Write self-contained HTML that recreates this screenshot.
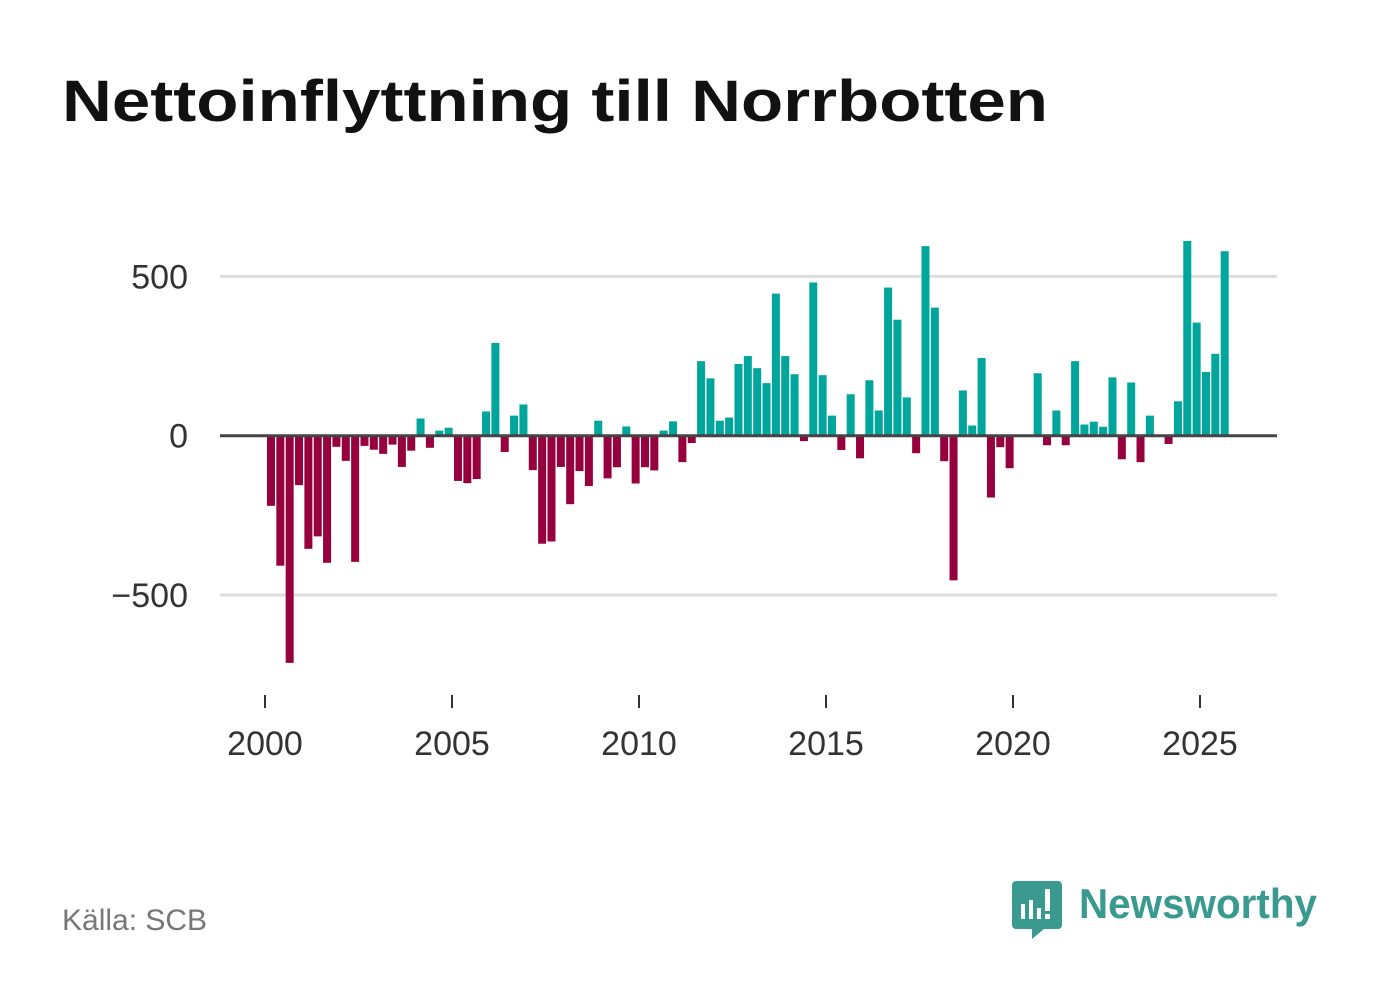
<!DOCTYPE html>
<html><head><meta charset="utf-8"><style>
html,body{margin:0;padding:0;background:#fff;}
svg{display:block;font-family:"Liberation Sans",sans-serif;}
</style></head><body>
<svg id="chart" width="1382" height="999" viewBox="0 0 1382 999" xmlns="http://www.w3.org/2000/svg">
<rect width="1382" height="999" fill="#fff"/>
<text x="62" y="121" font-size="58" font-weight="bold" fill="#111" textLength="986" lengthAdjust="spacingAndGlyphs">Nettoinflyttning till Norrbotten</text>
<g id="grid"></g>
<g id="bars"></g>
<g id="axes"></g>
<text x="62" y="930" font-size="30" fill="#777">Källa: SCB</text>
<g>
<path d="M1016 881 h42 a4 4 0 0 1 4 4 v40 a4 4 0 0 1 -4 4 h-14 l-12 10 l0 -10 h-16 a4 4 0 0 1 -4 -4 v-40 a4 4 0 0 1 4 -4z" fill="#3a9a90"/>
<rect x="1021" y="904" width="4" height="15" fill="#fff"/>
<rect x="1029" y="900" width="4" height="19" fill="#fff"/>
<rect x="1037" y="908" width="4" height="11" fill="#fff"/>
<rect x="1045" y="889" width="5" height="22" fill="#fff"/>
<rect x="1045" y="914" width="5" height="5" fill="#fff"/>
<text x="1079" y="918" font-size="42" font-weight="bold" fill="#3a9a90" textLength="238" lengthAdjust="spacingAndGlyphs">Newsworthy</text>
</g>
</svg>
<script>
const values = [-220,-408,-713,-155, -355,-316,-399,-35, -79,-396,-32,-44, -57,-28,-98,-47,
 54,-38,16,25, -142,-149,-136,76, 291,-51,63,98, -108,-339,-332,-98, -215,-111,-158,47,
 -134,-99,29,-150, -99,-109,16,45, -83,-23,234,180, 47,57,225,250, 212,165,446,250,
 193,-17,481,190, 63,-45,130,-71, 174,79,465,364, 120,-55,595,402, -80,-454,142,32,
 244,-194,-36,-102, 0,3,196,-30, 79,-30,234,35, 44,28,183,-74, 167,-83,63,0,
 -26,108,611,355, 200,257,579];
const startYear = 2000;
const yTicks = [500, 0, -500];
const yTickLabels = ["500", "0", "\u2212500"];
const xTicks = [2000, 2005, 2010, 2015, 2020, 2025];

const NS = "http://www.w3.org/2000/svg";
const x = t => 265 + (t - 2000) * 37.4;
const y = v => 435.7 - v * 0.3186;
function mk(tag, attrs, parent){const e=document.createElementNS(NS,tag);for(const k in attrs)e.setAttribute(k,attrs[k]);parent.appendChild(e);return e;}
const grid=document.getElementById('grid'), bars=document.getElementById('bars'), axes=document.getElementById('axes');

yTicks.forEach((v,i)=>{
  if(v!==0){
    const l=mk('line',{x1:220,x2:1277,y1:y(v),y2:y(v),stroke:'#dddddd','stroke-width':3},grid);
    
    
  }
  const t=mk('text',{x:188,y:y(v)+12,'text-anchor':'end','font-size':34,fill:'#333'},axes);
  t.textContent=yTickLabels[i];
  
  
});

values.forEach((v,i)=>{
  const t = startYear + i*0.25 + 0.16;
  const cx = x(t);
  const y0=y(0), y1=y(v);
  const r=mk('rect',{x:cx-4,y:Math.min(y0,y1),width:8,height:Math.abs(y1-y0),fill:v>=0?'#00a59b':'#96003c'},bars);
  
  
});

const zl=mk('line',{x1:220,x2:1277,y1:y(0),y2:y(0),stroke:'#444','stroke-width':3},axes);



xTicks.forEach(yr=>{
  const tk=mk('line',{x1:x(yr),x2:x(yr),y1:695,y2:708,stroke:'#333','stroke-width':2},axes);
  
  
  const lb=mk('text',{x:x(yr),y:755,'text-anchor':'middle','font-size':34,fill:'#333'},axes);
  lb.textContent=String(yr);
  
  
});
</script>
</body></html>
